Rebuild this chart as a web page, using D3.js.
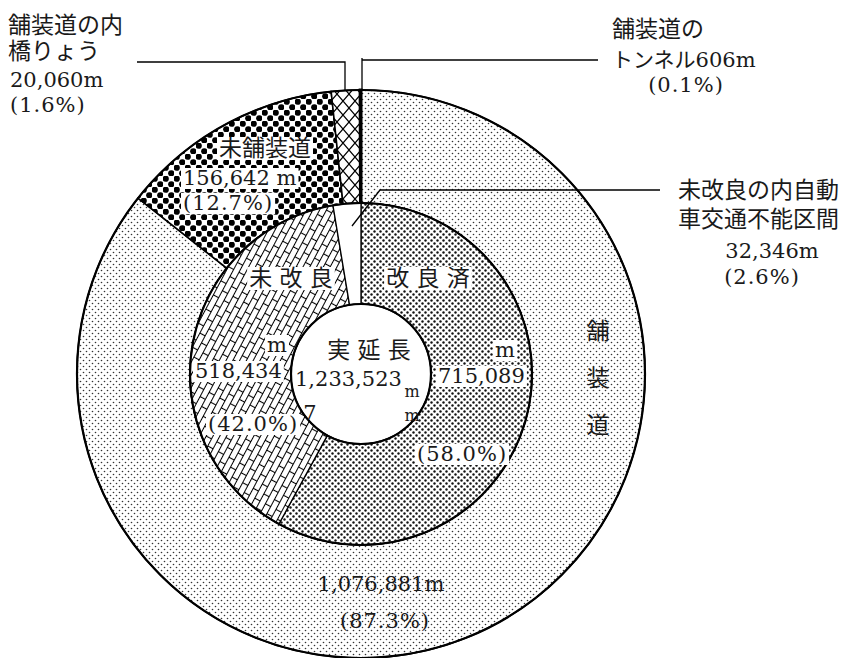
<!DOCTYPE html>
<html>
<head>
<meta charset="utf-8">
<script src="https://cdn.jsdelivr.net/npm/d3@7"></script>
<style>
  html, body { margin: 0; padding: 0; background: #fff; }
  text { font-family: "DejaVu Serif", "Liberation Serif", "Noto Sans CJK JP", serif; fill: #1a1a1a; }
</style>
</head>
<body>
<svg id="chart" width="849" height="658"></svg>
<script>
// outer ring: paved (incl. bridges and tunnels) / unpaved
var totalLength = 1233523;
var pavedTotal = 1076881;
var bridgeLength = 20060;
var tunnelLength = 606;
var unpavedLength = 156642;
var outerKeys = ["paved", "unpaved", "bridge", "tunnel"];
var outerValues = [pavedTotal - bridgeLength - tunnelLength, unpavedLength, bridgeLength, tunnelLength];

// inner ring: improved / not improved (incl. impassable section)
var improvedLength = 715089;
var unimprovedTotal = 518434;
var impassableLength = 32346;
var innerKeys = ["improved", "unimproved", "impassable"];
var innerValues = [improvedLength, unimprovedTotal - impassableLength, impassableLength];

var cx = 361, cy = 374;
var rOuter = 284, rMid = 171, rHole = 70;

var svg = d3.select("#chart");
var defs = svg.append("defs");

// patterns
function dotPattern(id, size, r, color) {
	var p = defs.append("pattern").attr("id", id)
		.attr("patternUnits", "userSpaceOnUse").attr("width", size).attr("height", size);
	p.append("rect").attr("width", size).attr("height", size).attr("fill", "#fff");
	p.append("circle").attr("cx", size / 4).attr("cy", size / 4).attr("r", r).attr("fill", color);
	p.append("circle").attr("cx", size * 3 / 4).attr("cy", size * 3 / 4).attr("r", r).attr("fill", color);
}
dotPattern("pat-paved", 6, 0.8, "#333");
dotPattern("pat-improved", 6, 1.2, "#111");
dotPattern("pat-unpaved", 11, 3.1, "#000");

// bridges: zigzag cross lines
var cross = defs.append("pattern").attr("id", "pat-bridge")
	.attr("patternUnits", "userSpaceOnUse").attr("width", 12).attr("height", 14);
cross.append("rect").attr("width", 12).attr("height", 14).attr("fill", "#fff");
cross.append("path").attr("d", "M0,0L12,14M12,0L0,14").attr("stroke", "#000").attr("stroke-width", 1.2);

// not improved: slanted brick wall
var brick = defs.append("pattern").attr("id", "pat-brick")
	.attr("patternUnits", "userSpaceOnUse").attr("width", 16).attr("height", 12)
	.attr("patternTransform", "rotate(-62)");
brick.append("rect").attr("width", 16).attr("height", 12).attr("fill", "#fff");
brick.append("path")
	.attr("d", "M0,0.5H16M0,6.5H16M0.5,0.5V6.5M8.5,6.5V12")
	.attr("stroke", "#000").attr("stroke-width", 1.1).attr("fill", "none");

var fills = {
	paved: "url(#pat-paved)",
	unpaved: "url(#pat-unpaved)",
	bridge: "url(#pat-bridge)",
	tunnel: "#000",
	improved: "url(#pat-improved)",
	unimproved: "url(#pat-brick)",
	impassable: "#fff"
};

var g = svg.append("g").attr("transform", "translate(" + cx + "," + cy + ")");

var pie = d3.pie().sort(null).value(function (d) { return d.value; });

var outerArc = d3.arc().innerRadius(rMid).outerRadius(rOuter);
var innerArc = d3.arc().innerRadius(rHole).outerRadius(rMid);

var outerData = pie(outerKeys.map(function (k, i) { return { key: k, value: outerValues[i] }; }));
var innerData = pie(innerKeys.map(function (k, i) { return { key: k, value: innerValues[i] }; }));

g.selectAll("path.outer").data(outerData).enter().append("path")
	.attr("class", "outer")
	.attr("d", outerArc)
	.attr("fill", function (d) { return fills[d.data.key]; })
	.attr("stroke", "#000")
	.attr("stroke-width", function (d) { return d.data.key === "tunnel" ? 3 : 1.6; });

g.selectAll("path.inner").data(innerData).enter().append("path")
	.attr("class", "inner")
	.attr("d", innerArc)
	.attr("fill", function (d) { return fills[d.data.key]; })
	.attr("stroke", "#000")
	.attr("stroke-width", 1.3);

// ring outlines
[rOuter, rMid, rHole].forEach(function (r) {
	g.append("circle").attr("r", r).attr("fill", "none").attr("stroke", "#000").attr("stroke-width", 2.2);
});

// leader lines
var leaders = [
	[[137, 62], [345, 62], [345, 90]],
	[[362, 58], [362, 90]],
	[[362, 60], [598, 60]],
	[[352, 226], [380, 190], [660, 190]]
];
svg.selectAll("path.leader").data(leaders).enter().append("path")
	.attr("class", "leader")
	.attr("d", d3.line())
	.attr("fill", "none").attr("stroke", "#000").attr("stroke-width", 1.3);

// label layout: [text, x, y, anchor, whiteBox, size]
var labelLayout = [
	["舗装道の内", 8, 33, "start", false],
	["橋りょう", 8, 59, "start", false],
	["20,060m", 10, 87, "start", false],
	["(1.6%)", 10, 112, "start", false],
	["舗装道の", 612, 37, "start", false],
	["トンネル606m", 612, 67, "start", false],
	["(0.1%)", 686, 92, "middle", false],
	["未改良の内自動", 678, 198, "start", false],
	["車交通不能区間", 678, 227, "start", false],
	["32,346m", 772, 258, "middle", false],
	["(2.6%)", 762, 284, "middle", false],
	["未舗装道", 265, 156, "middle", true],
	["156,642 m", 183, 185, "start", true],
	["(12.7%)", 183, 210, "start", true],
	["未 改 良", 291, 286, "middle", true],
	["改 良 済", 428, 286, "middle", true],
	["m", 277, 352, "middle", true],
	["518,434", 195, 378, "start", true],
	["(42.0%)", 208, 431, "start", true],
	["実 延 長", 369, 358, "middle", false],
	["1,233,523", 295, 386, "start", false],
	["7", 310, 420, "middle", false],
	["m", 412, 397, "middle", false, 16],
	["m", 412, 421, "middle", false, 16],
	["m", 505, 357, "middle", true],
	["715,089", 438, 383, "start", true],
	["(58.0%)", 417, 461, "start", true],
	["舗", 598, 339, "middle", false],
	["装", 598, 386, "middle", false],
	["道", 598, 433, "middle", false],
	["1,076,881m", 381, 591, "middle", false],
	["(87.3%)", 385, 628, "middle", false]
];

function labelSize(d) {
	if (d[5]) return d[5];
	return /[0-9m%]/.test(d[0]) ? 21 : 23;
}

var lab = svg.selectAll("g.label").data(labelLayout).enter().append("g").attr("class", "label");
lab.each(function (d) {
	var sel = d3.select(this);
	var t = sel.append("text")
		.attr("x", d[1]).attr("y", d[2])
		.attr("text-anchor", d[3])
		.attr("font-size", labelSize(d))
		.attr("letter-spacing", /^\(/.test(d[0]) ? 1 : 0)
		.text(d[0]);
	if (d[4]) {
		var bb = t.node().getBBox();
		sel.insert("rect", "text")
			.attr("x", bb.x - 2).attr("y", bb.y + 2)
			.attr("width", bb.width + 4).attr("height", bb.height - 3)
			.attr("fill", "#fff");
	}
});
</script>
</body>
</html>
